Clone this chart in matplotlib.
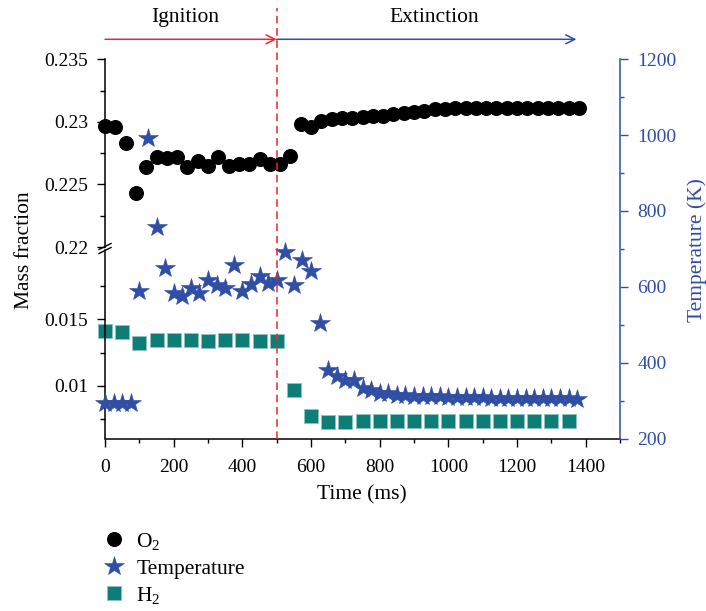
import matplotlib
matplotlib.use("Agg")
import matplotlib.pyplot as plt
import matplotlib.transforms as mtransforms
from matplotlib.ticker import FixedLocator, MultipleLocator, FuncFormatter

plt.rcParams["font.family"] = ["Liberation Serif", "DejaVu Serif"]
plt.rcParams["mathtext.fontset"] = "custom"
plt.rcParams["mathtext.rm"] = "Liberation Serif"
plt.rcParams["mathtext.it"] = "Liberation Serif:italic"

# ---- data -------------------------------------------------------------
o2_time = [0, 30, 60, 90, 120, 150, 180, 210, 240, 270, 300, 330, 360, 390,
           420, 450, 480, 510, 540, 570, 600, 630, 660, 690, 720, 750, 780,
           810, 840, 870, 900, 930, 960, 990, 1020, 1050, 1080, 1110, 1140,
           1170, 1200, 1230, 1260, 1290, 1320, 1350, 1380]
o2_frac = [0.2297, 0.2296, 0.2283, 0.2243, 0.2264, 0.2272, 0.2271, 0.2272,
           0.2264, 0.2269, 0.2265, 0.2272, 0.2265, 0.2266, 0.2266, 0.2270,
           0.2266, 0.2266, 0.2273, 0.2298, 0.2296, 0.2301, 0.2302, 0.2303,
           0.2303, 0.2304, 0.2305, 0.2305, 0.2306, 0.2307, 0.2308, 0.2309,
           0.2310, 0.2310, 0.2311, 0.2311, 0.2311, 0.2311, 0.2311, 0.2311,
           0.2311, 0.2311, 0.2311, 0.2311, 0.2311, 0.2311, 0.2311]

temp_time = [0, 25, 50, 75, 100, 125, 150, 175, 200, 225, 250, 275, 300, 325,
             350, 375, 400, 425, 450, 475, 500, 525, 550, 575, 600, 625, 650,
             675, 700, 725, 750, 775, 800, 825, 850, 875, 900, 925, 950, 975,
             1000, 1025, 1050, 1075, 1100, 1125, 1150, 1175, 1200, 1225, 1250,
             1275, 1300, 1325, 1350, 1375]
temp_K = [294, 294, 294, 294, 588, 992, 759, 650, 584, 575, 597, 584, 617, 606,
          597, 658, 588, 608, 628, 610, 617, 693, 606, 672, 643, 505, 380, 366,
          355, 354, 334, 327, 320, 319, 316, 314, 313, 312, 311, 311, 310, 310,
          309, 309, 309, 308, 308, 308, 307, 307, 307, 307, 306, 306, 306, 305]

h2_time = [0, 50, 100, 150, 200, 250, 300, 350, 400, 450, 500, 550, 600, 650,
           700, 750, 800, 850, 900, 950, 1000, 1050, 1100, 1150, 1200, 1250,
           1300, 1350]
h2_frac = [0.01415, 0.01407, 0.01320, 0.01345, 0.01345, 0.01345, 0.01340,
           0.01345, 0.01345, 0.01338, 0.01338, 0.00970, 0.00775, 0.00732,
           0.00732, 0.00735, 0.00735, 0.00737, 0.00738, 0.00738, 0.00739,
           0.00739, 0.00740, 0.00740, 0.00740, 0.00740, 0.00740, 0.00740]

x_ticks = [0, 200, 400, 600, 800, 1000, 1200, 1400]
phase_switch = 500
phase_end = 1373

# ---- styling ----------------------------------------------------------
BLUE = "#2f4ea4"
TEAL = "#0e7c77"
RED = "#e8282c"
TICK_FS = 14
LABEL_FS = 15.5

W, H = 706, 611
fig = plt.figure(figsize=(W / 100, H / 100), dpi=100)


def frac_box(left, top, right, bottom):
    return [left / W, 1 - bottom / H, (right - left) / W, (bottom - top) / H]


x0, x1 = 105, 620
ax_top = fig.add_axes(frac_box(x0, 59.3, x1, 247.0))
ax_bot = fig.add_axes(frac_box(x0, 250.0, x1, 438.5))
ax_T = fig.add_axes(frac_box(x0, 59.3, x1, 438.5))
ax_T.patch.set_alpha(0)

fmt = FuncFormatter(lambda v, _: "%g" % round(v, 4))

for ax in (ax_top, ax_bot):
    ax.set_xlim(0, 1500)
    ax.spines["top"].set_visible(False)
    ax.spines["right"].set_visible(False)
    ax.spines["left"].set_linewidth(1.1)
    ax.spines["bottom"].set_linewidth(1.1)
    ax.yaxis.set_major_formatter(fmt)
    ax.tick_params(axis="y", which="major", direction="out", length=6,
                   width=1.0, labelsize=TICK_FS, pad=6)
    ax.tick_params(axis="y", which="minor", direction="out", length=3.5,
                   width=1.0)

# upper segment (O2)
ax_top.set_ylim(0.22, 0.235)
ax_top.spines["bottom"].set_visible(False)
ax_top.yaxis.set_major_locator(FixedLocator([0.22, 0.225, 0.23, 0.235]))
ax_top.yaxis.set_minor_locator(FixedLocator([0.2225, 0.2275, 0.2325]))
ax_top.set_xticks([])

# lower segment (H2)
ax_bot.set_ylim(0.00606, 0.0202)
ax_bot.yaxis.set_major_locator(FixedLocator([0.01, 0.015]))
ax_bot.yaxis.set_minor_locator(FixedLocator([0.0075, 0.0125, 0.0175]))
ax_bot.set_xticks(x_ticks)
ax_bot.xaxis.set_minor_locator(MultipleLocator(100))
ax_bot.tick_params(axis="x", which="major", direction="out", length=5.5,
                   width=1.0, labelsize=TICK_FS, pad=9)
ax_bot.tick_params(axis="x", which="minor", direction="out", length=3,
                   width=1.0)

# temperature axis spanning the whole height
ax_T.set_xlim(0, 1500)
ax_T.set_ylim(200, 1200)
for side in ("left", "top", "bottom"):
    ax_T.spines[side].set_visible(False)
ax_T.spines["right"].set_color(BLUE)
ax_T.spines["right"].set_linewidth(1.1)
ax_T.set_xticks([])
ax_T.yaxis.tick_right()
ax_T.yaxis.set_label_position("right")
ax_T.yaxis.set_major_locator(MultipleLocator(200))
ax_T.yaxis.set_minor_locator(MultipleLocator(100))
ax_T.tick_params(axis="y", which="major", direction="out", length=5.5,
                 width=1.0, colors=BLUE, labelsize=TICK_FS, pad=7)
ax_T.tick_params(axis="y", which="minor", direction="out", length=3,
                 width=1.0, colors=BLUE)

# ---- series -----------------------------------------------------------
l_o2, = ax_top.plot(o2_time, o2_frac, ls="none", marker="o", ms=9.8,
                    color="black", mec="black", clip_on=False, label="O$_2$")
l_h2, = ax_bot.plot(h2_time, h2_frac, ls="none", marker="s", ms=10.3,
                    color=TEAL, mec="#8cc4c0", mew=0.7, clip_on=False,
                    label="H$_2$")
l_T, = ax_T.plot(temp_time, temp_K, ls="none", marker="*", ms=15,
                 color=BLUE, mec=BLUE, mew=0.4, clip_on=False,
                 label="Temperature")

# ---- axis break marks -------------------------------------------------
brk = dict(transform=fig.transFigure, color="black", lw=1.0, clip_on=False)
for dy in (-2.0, 2.0):
    yc = 1 - (248.5 + dy) / H
    fig.add_artist(plt.Line2D([(x0 - 6) / W, (x0 + 6) / W],
                              [yc - 3 / H, yc + 3 / H], **brk))

# ---- phase markers ----------------------------------------------------
blend = mtransforms.blended_transform_factory(ax_T.transData, ax_T.transAxes)
span_px = 438.5 - 59.3
arrow_y = 1 + (59.3 - 39.3) / span_px
text_y = 1 + (59.3 - 18.0) / span_px
line_top = 1 + (59.3 - 8.0) / span_px

ax_T.plot([phase_switch, phase_switch], [0, line_top], transform=blend,
          color=RED, lw=1.1, ls=(0, (5, 3)), clip_on=False, zorder=5)
ax_T.annotate("", xy=(phase_switch, arrow_y), xytext=(0, arrow_y),
              xycoords=blend, textcoords=blend,
              arrowprops=dict(arrowstyle="->", color=RED, lw=1.1,
                              shrinkA=0, shrinkB=0, mutation_scale=16))
ax_T.annotate("", xy=(phase_end, arrow_y), xytext=(phase_switch, arrow_y),
              xycoords=blend, textcoords=blend,
              arrowprops=dict(arrowstyle="->", color=BLUE, lw=1.1,
                              shrinkA=0, shrinkB=0, mutation_scale=16))
ax_T.text(233, text_y, "Ignition", transform=blend, ha="center",
          va="center", fontsize=LABEL_FS)
ax_T.text(959, text_y, "Extinction", transform=blend, ha="center",
          va="center", fontsize=LABEL_FS)

# ---- axis titles ------------------------------------------------------
fig.text(25 / W, 1 - 250 / H, "Mass fraction", rotation=90, ha="center",
         va="center", fontsize=LABEL_FS)
fig.text(697 / W, 1 - 250 / H, "Temperature (K)", rotation=90, ha="center",
         va="center", fontsize=LABEL_FS, color=BLUE)
fig.text(362 / W, 1 - 495 / H, "Time (ms)", ha="center", va="center",
         fontsize=LABEL_FS)

# ---- legend -----------------------------------------------------------
fig.legend([l_o2, l_T, l_h2], ["O$_2$", "Temperature", "H$_2$"],
           loc="upper left", bbox_to_anchor=(103 / W, 1 - 531 / H),
           frameon=False, fontsize=15.5, handlelength=1.0,
           handletextpad=0.55, labelspacing=0.3, borderpad=0,
           borderaxespad=0, numpoints=1)

fig.savefig("out.png", dpi=100)
